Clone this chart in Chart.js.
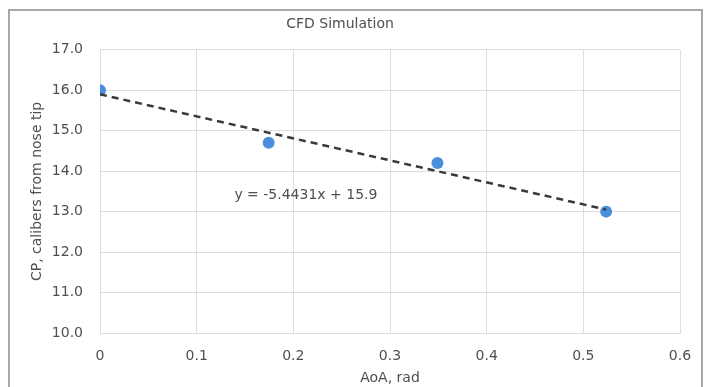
<!DOCTYPE html>
<html>
<head>
<meta charset="utf-8">
<script src="https://cdn.jsdelivr.net/npm/chart.js@4.4.1/dist/chart.umd.min.js"></script>
<style>
  html, body { margin: 0; padding: 0; background: #fff; overflow: hidden; }
  #frame {
    position: absolute; left: 8px; top: 9px; width: 695px; height: 400px;
    border: 2px solid #a8a8a8; box-sizing: border-box;
  }
  #cp_chart { position: absolute; left: 0; top: 0; }
</style>
</head>
<body>
<div id="frame"></div>
<canvas id="cp_chart" width="707" height="387"></canvas>
<script>
// angle of attack (rad) and centre of pressure position
var aoa = [0, 0.1745, 0.3491, 0.5236];
var cpCalibers = [16.0, 14.7, 14.2, 13.0];

// linear fit shown on the chart
var fitSlope = -5.4431;
var fitIntercept = 15.9;
var fitLabel = 'y = -5.4431x + 15.9';
var fitLabelPos = { x: 0.213, y: 13.41 };

var xRange = [0, 0.6];
var yRange = [10, 17];

var textColor = '#4f4f4f';
var gridColor = '#dedede';

Chart.defaults.font.family = 'DejaVu Sans';
Chart.defaults.font.size = 14;
Chart.defaults.color = textColor;

var fitPoints = [xRange[0], aoa[aoa.length - 1]].map(function (x) {
    return { x: x, y: fitIntercept + fitSlope * x };
});

var equationLabel = {
    id: 'equationLabel',
    afterDatasetsDraw: function (chart) {
        var ctx = chart.ctx;
        ctx.save();
        ctx.font = '14px "DejaVu Sans"';
        ctx.fillStyle = textColor;
        ctx.textAlign = 'center';
        ctx.textBaseline = 'middle';
        ctx.fillText(fitLabel,
            chart.scales.x.getPixelForValue(fitLabelPos.x),
            chart.scales.y.getPixelForValue(fitLabelPos.y));
        ctx.restore();
    }
};

new Chart(document.getElementById('cp_chart').getContext('2d'), {
    type: 'scatter',
    data: {
        datasets: [{
            label: 'CP',
            data: aoa.map(function (x, i) { return { x: x, y: cpCalibers[i] }; }),
            backgroundColor: '#4a8fdb',
            borderWidth: 0,
            pointRadius: 6,
            order: 1
        }, {
            type: 'line',
            label: 'Linear fit',
            data: fitPoints,
            borderColor: '#3a3a3a',
            borderWidth: 2.5,
            borderDash: [7, 5],
            pointRadius: 0,
            fill: false,
            order: 0
        }]
    },
    options: {
        responsive: false,
        animation: false,
        layout: { padding: { left: 0, right: 27, top: 0, bottom: 0 } },
        plugins: {
            legend: { display: false },
            tooltip: { enabled: false },
            title: {
                display: true,
                text: 'CFD Simulation',
                color: textColor,
                font: { size: 14, weight: 'normal' },
                padding: { top: 16, bottom: 17 }
            }
        },
        scales: {
            x: {
                type: 'linear',
                min: xRange[0],
                max: xRange[1],
                afterFit: function (scale) { scale.height = 54; },
                grid: { color: gridColor, drawTicks: false },
                border: { color: gridColor },
                ticks: {
                    stepSize: 0.1,
                    padding: 15,
                    callback: function (v) { return v === 0 ? '0' : v.toFixed(1); }
                },
                title: { display: true, text: 'AoA, rad', padding: { top: 0, bottom: 0 } }
            },
            y: {
                min: yRange[0],
                max: yRange[1],
                afterFit: function (scale) { scale.width = 100; },
                grid: { color: gridColor, drawTicks: false },
                border: { color: gridColor },
                ticks: {
                    stepSize: 1,
                    padding: 17,
                    callback: function (v) { return v.toFixed(1); }
                },
                title: { display: true, text: 'CP, calibers from nose tip', padding: { top: 29, bottom: 0 } }
            }
        }
    },
    plugins: [equationLabel]
});
</script>
</body>
</html>
